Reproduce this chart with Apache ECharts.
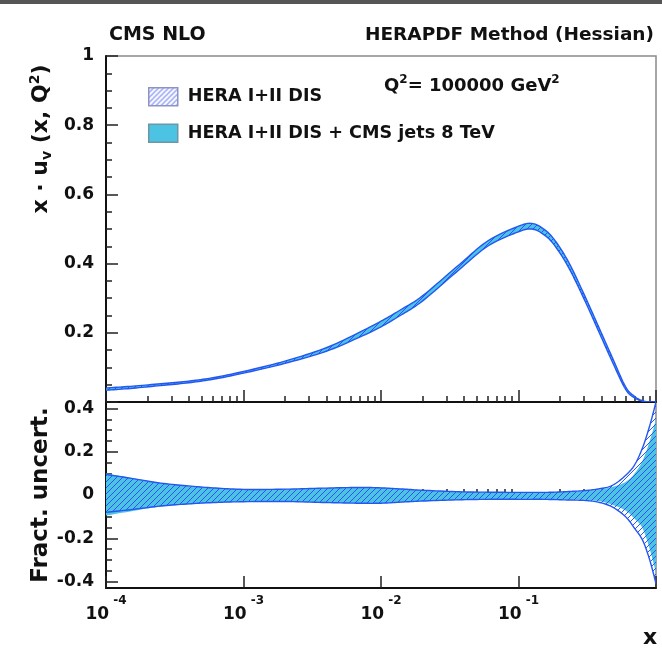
<!DOCTYPE html>
<html><head><meta charset="utf-8">
<script src="https://cdn.jsdelivr.net/npm/echarts@6/dist/echarts.min.js"></script>
<style>html,body{margin:0;padding:0;background:#fff}#c{width:662px;height:656px}</style>
</head><body><div id="c"></div><script>
// ---- data ----
const xValues = [0.0001, 0.00015, 0.00025, 0.0004, 0.0006, 0.001, 0.002, 0.004, 0.007, 0.01, 0.014, 0.02, 0.037, 0.06, 0.1, 0.125, 0.15, 0.18, 0.23, 0.3, 0.38, 0.48, 0.6, 0.7, 0.8, 0.9, 1.0];
const xuvCentral = [0.037, 0.042, 0.050, 0.058, 0.068, 0.086, 0.115, 0.152, 0.195, 0.226, 0.260, 0.300, 0.391, 0.460, 0.502, 0.510, 0.496, 0.466, 0.400, 0.305, 0.214, 0.124, 0.041, 0.014, 0.003, 0.000, 0.000];
const cmsUp   = [0.100, 0.080, 0.056, 0.042, 0.033, 0.026, 0.027, 0.032, 0.035, 0.033, 0.028, 0.022, 0.015, 0.013, 0.012, 0.012, 0.012, 0.013, 0.015, 0.018, 0.024, 0.037, 0.060, 0.100, 0.160, 0.250, 0.350];
const cmsDown = [-0.095, -0.076, -0.053, -0.043, -0.036, -0.031, -0.030, -0.035, -0.038, -0.038, -0.033, -0.028, -0.022, -0.020, -0.020, -0.020, -0.020, -0.020, -0.021, -0.022, -0.028, -0.045, -0.072, -0.110, -0.155, -0.250, -0.360];
const heraUp   = [0.095, 0.078, 0.055, 0.042, 0.033, 0.026, 0.027, 0.032, 0.035, 0.033, 0.028, 0.022, 0.015, 0.013, 0.012, 0.012, 0.012, 0.013, 0.016, 0.020, 0.028, 0.044, 0.090, 0.140, 0.220, 0.320, 0.430];
const heraDown = [-0.080, -0.068, -0.051, -0.041, -0.035, -0.031, -0.030, -0.035, -0.038, -0.038, -0.033, -0.028, -0.022, -0.020, -0.020, -0.020, -0.020, -0.021, -0.023, -0.025, -0.033, -0.055, -0.100, -0.155, -0.210, -0.300, -0.410];
const xDecadeTicks = [1e-4, 1e-3, 1e-2, 1e-1, 1];
const xDecadeLabels = [1e-4, 1e-3, 1e-2, 1e-1];
const yRatioLabels = [-0.4, -0.2, 0, 0.2, 0.4];
const seriesNames = ['HERA I+II DIS', 'HERA I+II DIS + CMS jets 8 TeV'];

// ---- styling ----
const FONT = 'DejaVu Sans';
const BLUE = '#2457f2';
const CYAN = '#4cc3e3';
const xMinor = [];
for (let e = -4; e < 0; e++) for (let k = 2; k <= 9; k++) xMinor.push(k * Math.pow(10, e));
const yRatioMinor = [];
for (let i = -8; i <= 8; i++) if (i % 4 !== 0) yRatioMinor.push(+(i * 0.05).toFixed(2));

function hatch(color, size, width, bg) {
  const c = document.createElement('canvas');
  c.width = c.height = size;
  const g = c.getContext('2d');
  if (bg) { g.fillStyle = bg; g.fillRect(0, 0, size, size); }
  g.strokeStyle = color; g.lineWidth = width; g.beginPath();
  g.moveTo(0, size); g.lineTo(size, 0);
  g.moveTo(-size / 2, size / 2); g.lineTo(size / 2, -size / 2);
  g.moveTo(size / 2, size * 1.5); g.lineTo(size * 1.5, size / 2);
  g.stroke();
  return c;
}
const hatchPat = { image: hatch('#2f55ee', 6, 1.0), repeat: 'repeat' };
const legendPat = { image: hatch('#8f9cf6', 5, 1.3, '#ffffff'), repeat: 'repeat' };

const topVal = (fr) => xuvCentral.map((v, i) => v * (1 + fr[i]));

// smooth rendering of a screen-space polyline (cubic Catmull-Rom style curve through the points)
function smoothPts(p) {
  const out = [], n = p.length, k = 1 / 6, seg = 10;
  for (let i = 0; i < n - 1; i++) {
    const p0 = p[Math.max(i - 1, 0)], p1 = p[i], p2 = p[i + 1], p3 = p[Math.min(i + 2, n - 1)];
    const c1 = [p1[0] + (p2[0] - p0[0]) * k, p1[1] + (p2[1] - p0[1]) * k];
    const c2 = [p2[0] - (p3[0] - p1[0]) * k, p2[1] - (p3[1] - p1[1]) * k];
    for (let s = 0; s < seg; s++) {
      const t = s / seg, u = 1 - t;
      out.push([
        u * u * u * p1[0] + 3 * u * u * t * c1[0] + 3 * u * t * t * c2[0] + t * t * t * p2[0],
        u * u * u * p1[1] + 3 * u * u * t * c1[1] + 3 * u * t * t * c2[1] + t * t * t * p2[1]
      ]);
    }
  }
  out.push(p[n - 1]);
  return out;
}

// band drawn as one shape between lower and upper edges, positioned by the axes
function bandSeries(name, xi, yi, lo, hi, fill, edgeColor, z) {
  return {
    name: name, type: 'custom', xAxisIndex: xi, yAxisIndex: yi, z: z, silent: true, clip: true,
    itemStyle: { color: fill === CYAN ? CYAN : BLUE },
    data: xValues.map((x, i) => [x, lo[i], hi[i]]),
    encode: { x: 0, y: [1, 2] },
    renderItem: (params, api) => {
      if (params.dataIndexInside !== 0) return null;
      const n = params.dataInsideLength;
      const upper = [], lower = [];
      for (let i = 0; i < n; i++) {
        const x = api.value(0, i);
        lower.push(api.coord([x, api.value(1, i)]));
        upper.push(api.coord([x, api.value(2, i)]));
      }
      const su = smoothPts(upper), sl = smoothPts(lower);
      const children = [{ type: 'polygon', shape: { points: su.concat(sl.slice().reverse()) }, style: { fill: fill, stroke: null } }];
      if (edgeColor) {
        children.push({ type: 'polyline', shape: { points: su }, style: { stroke: edgeColor, lineWidth: 1.4, fill: null } });
        children.push({ type: 'polyline', shape: { points: sl }, style: { stroke: edgeColor, lineWidth: 1.4, fill: null } });
      }
      return { type: 'group', children: children };
    }
  };
}

const series = [
  bandSeries(seriesNames[1], 0, 0, topVal(cmsDown), topVal(cmsUp), CYAN, null, 2),
  bandSeries(seriesNames[0], 0, 0, topVal(heraDown), topVal(heraUp), hatchPat, BLUE, 3),
  bandSeries(seriesNames[1], 2, 1, cmsDown, cmsUp, CYAN, null, 2),
  bandSeries(seriesNames[0], 2, 1, heraDown, heraUp, hatchPat, BLUE, 3)
];

const axisLine = { show: true, onZero: false, lineStyle: { color: '#111', width: 2 } };
const tickStyle = { color: '#222', width: 1.5 };
const lblFont = { fontFamily: FONT, fontWeight: 'bold', fontSize: 17, color: '#111' };

function xAxesFor(grid, withLabels) {
  return [
    { type: 'log', logBase: 10, gridIndex: grid, min: 1e-4, max: 1, position: 'bottom',
      axisLine: axisLine, splitLine: { show: false },
      axisTick: { show: true, inside: true, length: 12, lineStyle: tickStyle, customValues: xDecadeTicks },
      axisLabel: withLabels ? {
        show: true, margin: 4, customValues: xDecadeLabels,
        formatter: (v) => '{b|10}{s|' + Math.round(Math.log10(v)) + '}',
        rich: { b: { fontFamily: FONT, fontWeight: 'bold', fontSize: 17, color: '#111', padding: [14, 0, 0, 0] },
                s: { fontFamily: FONT, fontWeight: 'bold', fontSize: 12, color: '#111', padding: [0, 0, 13, 4] } }
      } : { show: false } },
    { type: 'log', logBase: 10, gridIndex: grid, min: 1e-4, max: 1, position: 'bottom',
      axisLine: { show: false }, splitLine: { show: false }, axisLabel: { show: false },
      axisTick: { show: true, inside: true, length: 6, lineStyle: tickStyle, customValues: xMinor } }
  ];
}

const option = {
  animation: false,
  backgroundColor: '#ffffff',
  graphic: [
    { type: 'rect', shape: { x: 0, y: 0, width: 662, height: 4 }, style: { fill: '#555' }, silent: true },
    { type: 'text', x: 41, y: 139, rotation: Math.PI / 2, silent: true,
      style: { text: '{a|x · u}{sub|v}{a| (x, Q}{sup|2}{a|)}', align: 'center', verticalAlign: 'middle',
        rich: { a: { fontFamily: FONT, fontWeight: 'bold', fontSize: 22, fill: '#111' },
                sub: { fontFamily: FONT, fontWeight: 'bold', fontSize: 14, fill: '#111', padding: [12, 0, 0, 0] },
                sup: { fontFamily: FONT, fontWeight: 'bold', fontSize: 14, fill: '#111', padding: [0, 0, 12, 0] } } } },
    { type: 'text', x: 41, y: 495, rotation: Math.PI / 2, silent: true,
      style: { text: 'Fract. uncert.', align: 'center', verticalAlign: 'middle',
        fontFamily: FONT, fontWeight: 'bold', fontSize: 23, fill: '#111' } },
    { type: 'text', x: 650, y: 638, silent: true,
      style: { text: 'x', align: 'center', verticalAlign: 'middle',
        fontFamily: FONT, fontWeight: 'bold', fontSize: 22, fill: '#111' } }
  ],
  title: [
    { text: 'CMS NLO', left: 104, top: 21, textStyle: { fontFamily: FONT, fontWeight: 'bold', fontSize: 19, color: '#111' } },
    { text: 'HERAPDF Method (Hessian)', right: 3, top: 21, textStyle: { fontFamily: FONT, fontWeight: 'bold', fontSize: 18.5, color: '#111' } },
    { text: '{a|Q}{s|2}{a|= 100000 GeV}{s|2}', left: 379, top: 66,
      textStyle: { rich: { a: { fontFamily: FONT, fontWeight: 'bold', fontSize: 18, color: '#111', padding: [6, 0, 0, 0] },
                           s: { fontFamily: FONT, fontWeight: 'bold', fontSize: 12, color: '#111', padding: [0, 0, 6, 0] } } } }
  ],
  legend: {
    orient: 'vertical', left: 143, top: 82, itemWidth: 29, itemHeight: 18, itemGap: 17, selectedMode: false,
    textStyle: { fontFamily: FONT, fontWeight: 'bold', fontSize: 17.6, color: '#111', padding: [0, 0, 0, 5] },
    data: [
      { name: seriesNames[0], icon: 'rect', itemStyle: { color: legendPat, borderColor: '#8d94c4', borderWidth: 1.5 } },
      { name: seriesNames[1], icon: 'rect', itemStyle: { color: CYAN, borderColor: '#6d97a4', borderWidth: 1.5 } }
    ]
  },
  grid: [
    { left: 106, top: 56, width: 550, height: 346, show: true, borderColor: '#8a8a8a', borderWidth: 1.5, backgroundColor: 'transparent' },
    { left: 106, top: 402, width: 550, height: 186, show: true, borderColor: '#8a8a8a', borderWidth: 1.5, backgroundColor: 'transparent' }
  ],
  xAxis: [].concat(xAxesFor(0, false), xAxesFor(1, true)),
  yAxis: [
    { type: 'value', gridIndex: 0, min: 0, max: 1, interval: 0.2, axisLine: axisLine, splitLine: { show: false },
      axisTick: { show: true, inside: true, length: 12, lineStyle: tickStyle },
      minorTick: { show: true, splitNumber: 4, length: 6, lineStyle: tickStyle },
      axisLabel: Object.assign({ margin: 12, formatter: (v) => (v === 0 ? '' : String(v)) }, lblFont) },
    { type: 'value', gridIndex: 1, min: -0.43, max: 0.43, axisLine: axisLine, splitLine: { show: false },
      axisTick: { show: true, inside: true, length: 12, lineStyle: tickStyle, customValues: yRatioLabels },
      axisLabel: Object.assign({ margin: 12, customValues: yRatioLabels, formatter: (v) => String(v) }, lblFont) },
    { type: 'value', gridIndex: 1, min: -0.43, max: 0.43, position: 'left', axisLine: { show: false }, splitLine: { show: false },
      axisLabel: { show: false },
      axisTick: { show: true, inside: true, length: 6, lineStyle: tickStyle, customValues: yRatioMinor } }
  ],
  series: series
};
const chart = echarts.init(document.getElementById('c'), null, { renderer: 'canvas' });
chart.setOption(option);
</script></body></html>
